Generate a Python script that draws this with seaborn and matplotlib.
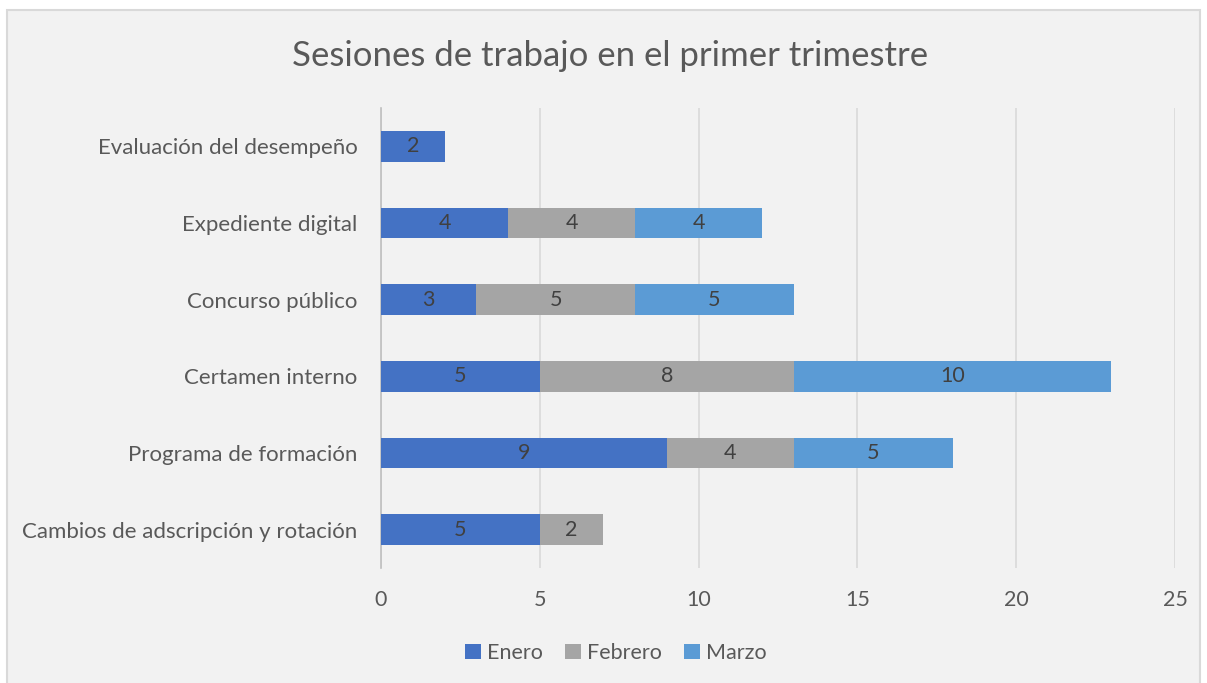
import numpy as np
import pandas as pd
import matplotlib
matplotlib.use("Agg")
import matplotlib.pyplot as plt
import seaborn as sns
from matplotlib.patches import Rectangle, Patch

categories = ["Evaluación del desempeño", "Expediente digital", "Concurso público",
              "Certamen interno", "Programa de formación", "Cambios de adscripción y rotación"]
series = ["Enero", "Febrero", "Marzo"]
enero = [2, 4, 3, 5, 9, 5]
febrero = [0, 4, 5, 8, 4, 2]
marzo = [0, 4, 5, 10, 5, 0]
colors = ["#4472C4", "#A5A5A5", "#5B9BD5"]
x_ticks = [0, 5, 10, 15, 20, 25]

sns.set_theme(style="white")
plt.rcParams["font.family"] = ["Lato", "DejaVu Sans"]
text_color = "#595959"

fig = plt.figure(figsize=(12.07, 6.83), dpi=100)
fig.patch.set_facecolor("white")
fig.patches.append(Rectangle((7 / 1207, -0.01), 1193 / 1207, 1 - 10 / 683 + 0.01,
                             transform=fig.transFigure, facecolor="#F2F2F2",
                             edgecolor="#D9D9D9", linewidth=1.5, zorder=-10))
ax = fig.add_axes([381 / 1207, 1 - 568 / 683, (1175 - 381) / 1207, (568 - 108) / 683])
ax.set_facecolor("#F2F2F2")

df = pd.DataFrame({"cat": categories, "Enero": enero, "Febrero": febrero, "Marzo": marzo})
left = np.zeros(len(categories))
for name, col in zip(series, colors):
    vals = df[name].to_numpy()
    sns.barplot(x=vals, y=df["cat"], order=categories, color=col, left=left,
                width=0.4, ax=ax, saturation=1, zorder=3, linewidth=0)
    cont = ax.containers[-1]
    labels = [str(v) if v > 0 else "" for v in vals]
    ax.bar_label(cont, labels=labels, label_type="center", color="#404040", fontsize=15.5)
    left = left + vals

ax.set_xlim(0, 25)
ax.set_ylim(len(categories) - 0.5, -0.5)
ax.set_xticks(x_ticks)
ax.xaxis.grid(True, color="#D9D9D9", linewidth=1.2, zorder=0)
ax.set_axisbelow(True)
for s in ["top", "right", "bottom"]:
    ax.spines[s].set_visible(False)
ax.spines["left"].set_color("#BFBFBF")
ax.spines["left"].set_linewidth(1.2)
ax.tick_params(axis="both", length=0, colors=text_color)
ax.tick_params(axis="y", pad=17, labelsize=16)
ax.tick_params(axis="x", pad=16, labelsize=15.5)
ax.set_xlabel("")
ax.set_ylabel("")

fig.text(610 / 1207, 1 - 56 / 683, "Sesiones de trabajo en el primer trimestre",
         ha="center", va="center", fontsize=25, color=text_color)

handles = [Patch(facecolor=c, edgecolor="none") for c in colors]
fig.legend(handles, series, loc="center", bbox_to_anchor=(616 / 1207, 1 - 653 / 683),
           ncol=3, frameon=False, fontsize=15.5, labelcolor=text_color,
           handlelength=0.75, handleheight=0.75, handletextpad=0.3, columnspacing=1.0)

fig.savefig("out.png", dpi=100, facecolor=fig.get_facecolor())
